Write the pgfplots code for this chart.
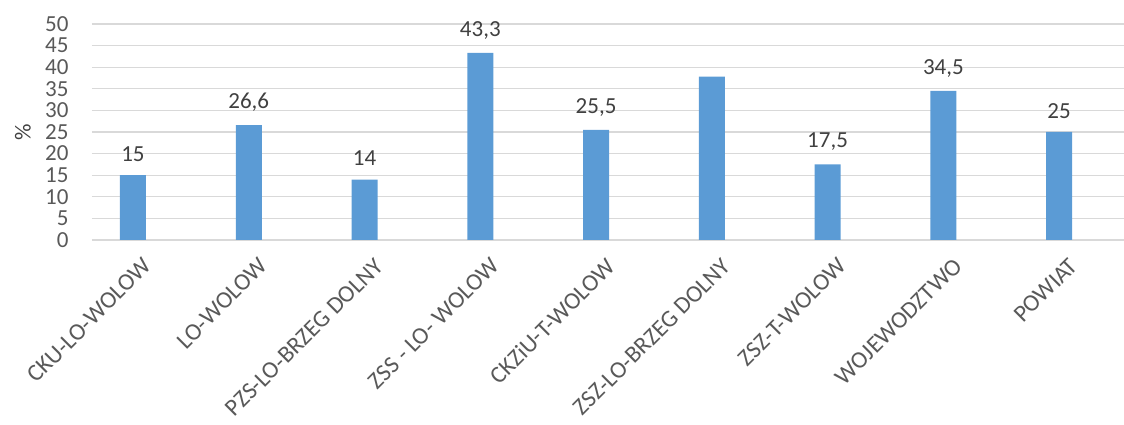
\documentclass[border=0pt]{standalone}
\usepackage{pgfplots}
\pgfplotsset{compat=1.18}
\usepackage{pgfplotstable}
\usepackage{fontspec}
\setmainfont{Carlito}
\definecolor{barc}{HTML}{5B9BD5}
\definecolor{gridc}{HTML}{D9D9D9}
\definecolor{tickc}{HTML}{595959}
\definecolor{labc}{HTML}{404040}

\pgfplotstableread{
x y lab
0 15 15
1 26.6 {26,6}
2 14 14
3 43.3 {43,3}
4 25.5 {25,5}
5 37.8 {}
6 17.5 {17,5}
7 34.5 {34,5}
8 25 25
}\data

\begin{document}
\begin{tikzpicture}[x=1pt,y=1pt]
\begin{axis}[
  at={(92pt,185pt)}, anchor=south west,
  width=1032pt, height=216pt, scale only axis,
  xmin=-0.354, xmax=8.56, ymin=0, ymax=50,
  axis line style={draw=none},
  tick style={draw=none},
  ytick={0,5,...,50},
  ymajorgrids, grid style={gridc, line width=1.2pt},
  xtick={0,...,8},
  xticklabels={CKU-LO-WOLOW, LO-WOLOW, PZS-LO-BRZEG DOLNY, ZSS - LO- WOLOW, CKZiU-T-WOLOW, ZSZ-LO-BRZEG DOLNY, ZSZ-T-WOLOW, WOJEWODZTWO, POWIAT},
  x tick label style={rotate=45, anchor=east, font=\fontsize{24}{28}\selectfont, text=tickc, xshift=1pt, yshift=-23pt},
  y tick label style={font=\fontsize{23}{27}\selectfont, text=tickc, xshift=-20pt},
  /pgf/number format/assume math mode=true,
  ylabel={\%},
  ylabel style={at={(axis description cs:-0.067,0.5)}, anchor=center, font=\fontsize{23}{27}\selectfont, text=labc},
  ybar, bar width=26pt,
]
\addplot[fill=barc, draw=none,
  nodes near coords, point meta=explicit symbolic,
  nodes near coords style={font=\fontsize{23}{27}\selectfont, text=labc, anchor=south, yshift=10pt}]
  table[x=x, y=y, meta=lab]{\data};
\end{axis}
\pgfresetboundingbox
\useasboundingbox (0,0) rectangle (1124,425);
\end{tikzpicture}
\end{document}
